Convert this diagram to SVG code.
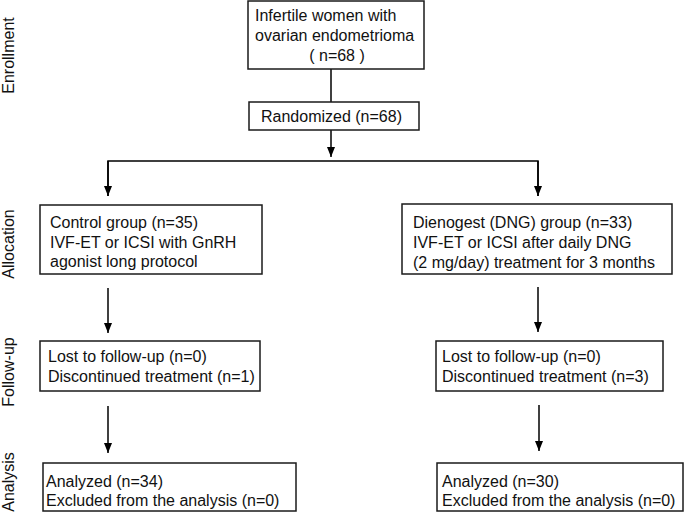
<svg xmlns="http://www.w3.org/2000/svg" width="685" height="521" viewBox="0 0 685 521">
<style>
.box{fill:#fff;stroke:#1a1a1a;stroke-width:1.5}
.t{font-family:"Liberation Sans",Arial,sans-serif;font-size:16px;fill:#111}
.c{fill:none;stroke:#000;stroke-width:1.5}
</style>
<defs>
<marker id="ah" markerWidth="8" markerHeight="10" refX="4" refY="10" orient="auto" markerUnits="userSpaceOnUse" viewBox="0 0 8 10">
<path d="M0,0 L8,0 L4,10 Z" fill="#000" transform="rotate(-90 4 5) translate(-1 1)"/>
</marker>
<marker id="arr" markerWidth="10" markerHeight="8" refX="10" refY="4" orient="auto" markerUnits="userSpaceOnUse" viewBox="0 0 10 8">
<path d="M0,0 L10,4 L0,8 Z" fill="#000"/>
</marker>
</defs>
<rect width="685" height="521" fill="#fff"/>
<g id="side-labels">
<text class="t" transform="translate(14 55.5) rotate(-90)" text-anchor="middle">Enrollment</text>
<text class="t" transform="translate(14 244) rotate(-90)" text-anchor="middle">Allocation</text>
<text class="t" transform="translate(14 372) rotate(-90)" text-anchor="middle">Follow-up</text>
<text class="t" transform="translate(14 482) rotate(-90)" text-anchor="middle">Analysis</text>
</g>
<g id="connectors">
<line class="c" x1="331" y1="69" x2="331" y2="102"/>
<line class="c" x1="331" y1="130" x2="331" y2="157" marker-end="url(#arr)"/>
<polyline class="c" points="108,196 108,161 538,161 538,196" />
<line class="c" x1="108" y1="161" x2="108" y2="196" marker-end="url(#arr)"/>
<line class="c" x1="538" y1="161" x2="538" y2="196" marker-end="url(#arr)"/>
<line class="c" x1="108" y1="288" x2="108" y2="333" marker-end="url(#arr)"/>
<line class="c" x1="538" y1="287" x2="538" y2="332" marker-end="url(#arr)"/>
<line class="c" x1="108" y1="406" x2="108" y2="453" marker-end="url(#arr)"/>
<line class="c" x1="539" y1="405" x2="539" y2="451" marker-end="url(#arr)"/>
</g>
<g id="enrolled">
<rect class="box" x="248" y="1" width="176" height="68"/>
<text class="t" x="255" y="21">Infertile women with</text>
<text class="t" x="255" y="41">ovarian endometrioma</text>
<text class="t" x="337" y="61" text-anchor="middle">( n=68 )</text>
</g>
<g id="randomized">
<rect class="box" x="249" y="102" width="170" height="28"/>
<text class="t" x="261" y="122">Randomized (n=68)</text>
</g>
<g id="control">
<rect class="box" x="40" y="205" width="222" height="69"/>
<text class="t" x="50" y="228">Control group (n=35)</text>
<text class="t" x="50" y="248">IVF-ET or ICSI with GnRH</text>
<text class="t" x="50" y="267">agonist long protocol</text>
</g>
<g id="dng">
<rect class="box" x="402" y="204" width="270" height="70"/>
<text class="t" x="413" y="228">Dienogest (DNG) group (n=33)</text>
<text class="t" x="413" y="248">IVF-ET or ICSI after daily DNG</text>
<text class="t" x="413" y="268">(2 mg/day) treatment for 3 months</text>
</g>
<g id="followup-control">
<rect class="box" x="40" y="341" width="220" height="50"/>
<text class="t" x="48" y="362">Lost to follow-up (n=0)</text>
<text class="t" x="48" y="382">Discontinued treatment (n=1)</text>
</g>
<g id="followup-dng">
<rect class="box" x="436" y="341" width="227" height="50"/>
<text class="t" x="442" y="362">Lost to follow-up (n=0)</text>
<text class="t" x="442" y="382">Discontinued treatment (n=3)</text>
</g>
<g id="analysis-control">
<rect class="box" x="43" y="463" width="253" height="48"/>
<text class="t" x="46" y="487">Analyzed (n=34)</text>
<text class="t" x="46" y="506">Excluded from the analysis (n=0)</text>
</g>
<g id="analysis-dng">
<rect class="box" x="437" y="463" width="246" height="48"/>
<text class="t" x="442" y="487">Analyzed (n=30)</text>
<text class="t" x="442" y="506">Excluded from the analysis (n=0)</text>
</g>
</svg>
